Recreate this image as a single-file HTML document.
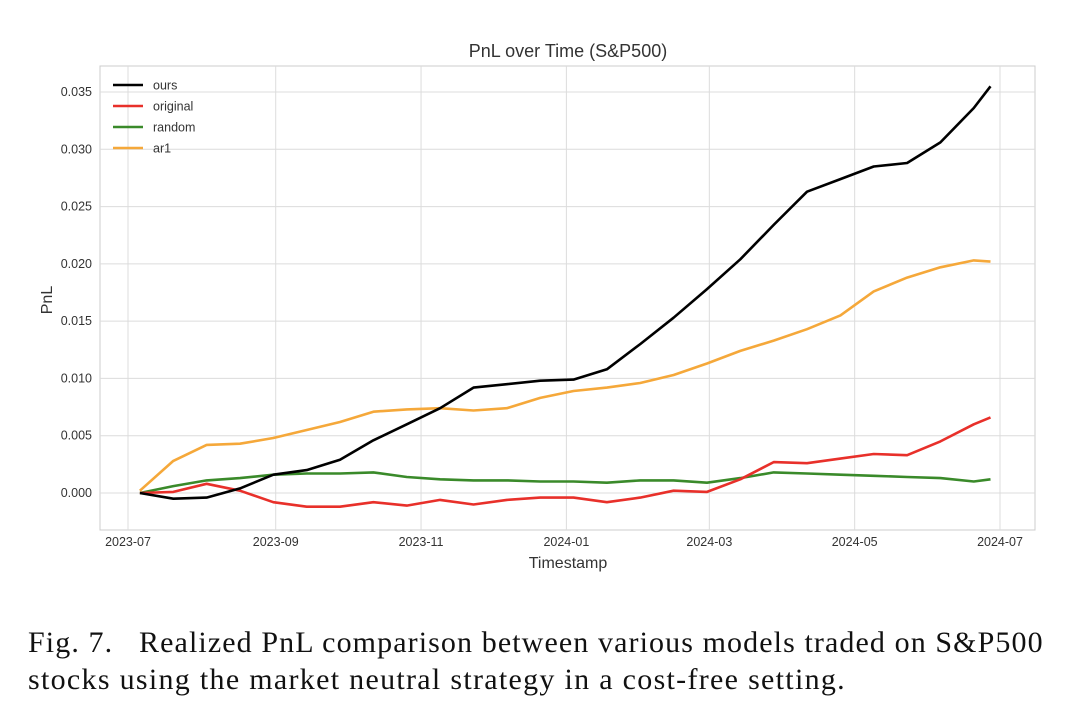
<!DOCTYPE html>
<html><head><meta charset="utf-8"><style>
body{margin:0;background:#fff;width:1078px;height:717px;overflow:hidden}
svg{display:block}
.cap{position:absolute;left:28px;top:624px;width:1050px;font-family:"Liberation Serif",serif;font-size:30px;color:#111;line-height:37px;margin:0;white-space:nowrap}
.cap span{display:block}
.l1{letter-spacing:1.1px}
.l2{letter-spacing:1.3px}
</style></head><body>
<svg id="chart" width="1078" height="717" xmlns="http://www.w3.org/2000/svg" font-family="Liberation Sans, sans-serif"></svg>
<p class="cap"><span class="l1">Fig. 7.&nbsp;&nbsp; Realized PnL comparison between various models traded on S&amp;P500</span><span class="l2">stocks using the market neutral strategy in a cost-free setting.</span></p>
<script>
const dates=["2023-07-06","2023-07-20","2023-08-03","2023-08-17","2023-08-31","2023-09-14","2023-09-28","2023-10-12","2023-10-26","2023-11-09","2023-11-23","2023-12-07","2023-12-21","2024-01-04","2024-01-18","2024-02-01","2024-02-15","2024-02-29","2024-03-14","2024-03-28","2024-04-11","2024-04-25","2024-05-09","2024-05-23","2024-06-06","2024-06-20","2024-06-27"];
const ours=[0,-0.0005,-0.0004,0.0004,0.0016,0.002,0.0029,0.0046,0.006,0.0074,0.0092,0.0095,0.0098,0.0099,0.0108,0.013,0.0153,0.0178,0.0204,0.0234,0.0263,0.0274,0.0285,0.0288,0.0306,0.0336,0.0355];
const original=[0,0.0001,0.0008,0.0002,-0.0008,-0.0012,-0.0012,-0.0008,-0.0011,-0.0006,-0.001,-0.0006,-0.0004,-0.0004,-0.0008,-0.0004,0.0002,0.0001,0.0012,0.0027,0.0026,0.003,0.0034,0.0033,0.0045,0.006,0.0066];
const random=[0,0.0006,0.0011,0.0013,0.0016,0.0017,0.0017,0.0018,0.0014,0.0012,0.0011,0.0011,0.001,0.001,0.0009,0.0011,0.0011,0.0009,0.0013,0.0018,0.0017,0.0016,0.0015,0.0014,0.0013,0.001,0.0012];
const ar1=[0.0002,0.0028,0.0042,0.0043,0.0048,0.0055,0.0062,0.0071,0.0073,0.0074,0.0072,0.0074,0.0083,0.0089,0.0092,0.0096,0.0103,0.0113,0.0124,0.0133,0.0143,0.0155,0.0176,0.0188,0.0197,0.0203,0.0202];
const yTicks=[0,0.005,0.01,0.015,0.02,0.025,0.03,0.035];
const xTicks=["2023-07","2023-09","2023-11","2024-01","2024-03","2024-05","2024-07"];
const NS="http://www.w3.org/2000/svg",svg=document.getElementById('chart');
const L=100,R=1035,T=66,B=530;
const d0=Date.UTC(2023,6,1);
function days(s){const p=s.split('-');return (Date.UTC(+p[0],+p[1]-1,p[2]?+p[2]:1)-d0)/86400000;}
const xs=s=>128+days(s)*872/366;
const ys=v=>493-v*(401/0.035);
function mk(t,a,txt){const e=document.createElementNS(NS,t);for(const k in a)e.setAttribute(k,a[k]);if(txt!=null)e.textContent=txt;svg.appendChild(e);return e;}
let e=mk('rect',{x:L,y:T,width:R-L,height:B-T,fill:'#fff',stroke:'#ccc','stroke-width':1});


yTicks.forEach(v=>{const y=ys(v);
 let g=mk('line',{x1:L,x2:R,y1:y,y2:y,stroke:'#dcdcdc','stroke-width':1});
 
 
 let t=mk('text',{x:L-8,y:y+4,'text-anchor':'end','font-size':12.5,fill:'#333'},v.toFixed(3));
 
 });
xTicks.forEach(s=>{const x=xs(s);
 let g=mk('line',{x1:x,x2:x,y1:T,y2:B,stroke:'#dcdcdc','stroke-width':1});
 
 
 let t=mk('text',{x:x,y:B+16,'text-anchor':'middle','font-size':12.5,fill:'#333'},s);
 
 });
const series=[["ours",ours,"#000000"],["original",original,"#e8302a"],["random",random,"#3a8a2a"],["ar1",ar1,"#f5a83a"]];
[3,2,1,0].forEach(i=>{const [n,vals,c]=series[i];
 const p=mk('polyline',{points:vals.map((v,j)=>xs(dates[j]).toFixed(1)+','+ys(v).toFixed(1)).join(' '),fill:'none',stroke:c,'stroke-width':2.6,'stroke-linejoin':'round'});
 
 });
series.forEach(([n,vals,c],i)=>{const y=85+i*21;
 let l=mk('line',{x1:113,x2:143,y1:y,y2:y,stroke:c,'stroke-width':2.6});
 
 
 let t=mk('text',{x:153,y:y+4.5,'font-size':12.5,fill:'#333'},n);
 
 });
let tt=mk('text',{x:568,y:57,'text-anchor':'middle','font-size':18,fill:'#333'},'PnL over Time (S&P500)');


let xt=mk('text',{x:568,y:568,'text-anchor':'middle','font-size':16,fill:'#333'},'Timestamp');


let yt=mk('text',{x:52,y:300,'text-anchor':'middle','font-size':16,fill:'#333',transform:'rotate(-90 52 300)'},'PnL');


</script>
</body></html>
